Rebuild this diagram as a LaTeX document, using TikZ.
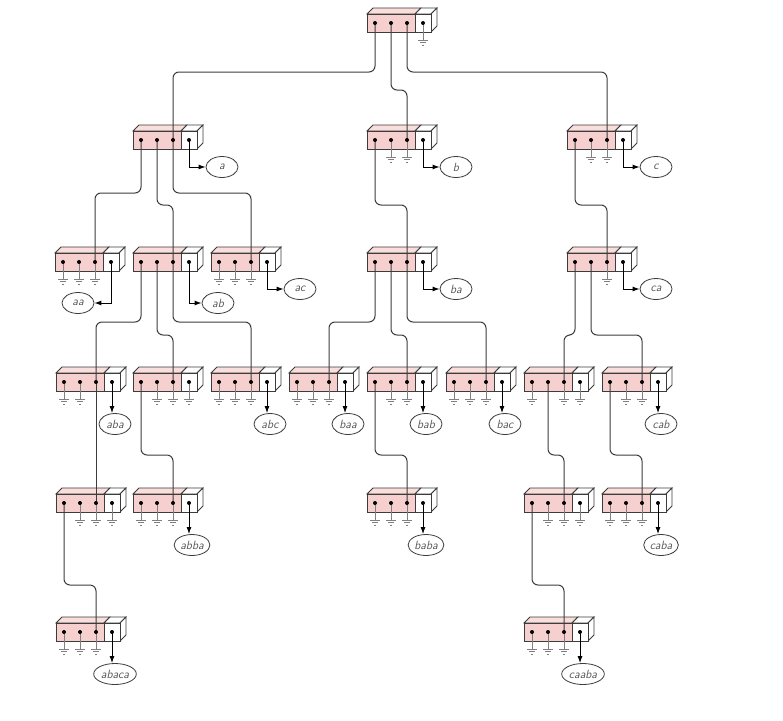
\documentclass[tikz,border=0pt]{standalone}
\usepackage{tikz}
\usetikzlibrary{shapes.geometric,arrows.meta}
\usepackage{xcolor}

\definecolor{cellpink}{RGB}{246,208,206}
\definecolor{celltop}{RGB}{250,222,220}
\definecolor{edgegray}{RGB}{60,60,60}

\tikzset{
	box/.style={draw=edgegray, line width=0.8pt},
	wire/.style={draw=edgegray, line width=1pt, rounded corners=6pt},
	gnd/.style={draw=gray, line width=0.9pt},
	tip/.style={draw=black, line width=1pt, -{Latex[length=7pt,width=5pt]}},
	leaf/.style={ellipse, draw=edgegray, line width=0.8pt, fill=white, inner sep=1pt,
		minimum width=32pt, minimum height=21pt, text=gray!70!black,
		font=\sffamily\itshape\fontsize{12}{14}\selectfont},
}

% trie cell: name, left x, top y of the front face
\newcommand{\trie}[3]{%
	\begin{scope}[shift={(#2,#3)}]
		\filldraw[box, fill=celltop] (0,0) -- (6,-6) -- (54,-6) -- (48,0) -- cycle;
		\filldraw[box, fill=white] (48,0) -- (54,-6) -- (70,-6) -- (64,0) -- cycle;
		\filldraw[box, fill=white] (64,0) -- (70,-6) -- (70,12) -- (64,18) -- cycle;
		\filldraw[box, fill=cellpink] (0,0) rectangle (48,18);
		\filldraw[box, fill=white] (48,0) rectangle (64,18);
		\coordinate (#1-a) at (8,9);
		\coordinate (#1-b) at (24,9);
		\coordinate (#1-c) at (40,9);
		\coordinate (#1-e) at (56,9);
	\end{scope}}
\newcommand{\gr}[1]{%
	\draw[gnd] (#1) -- ++(0,17);
	\draw[gnd] ([shift={(-5,17)}]#1) -- ++(10,0);
	\draw[gnd] ([shift={(-3,19.5)}]#1) -- ++(6,0);
	\draw[gnd] ([shift={(-1,22)}]#1) -- ++(2,0);}
\newcommand{\wire}[3]{\draw[wire] (#1) -- ++(0,#3) -| (#2);}

\begin{document}
\begin{tikzpicture}[x=1pt, y=-1pt]
\useasboundingbox[fill=white] (0,0) rectangle (783,720);

% cells
\trie{root}{367}{14}
\trie{a}{133}{131}  \trie{b}{367}{131}  \trie{c}{567}{131}
\trie{aa}{55}{253}  \trie{ab}{133}{253} \trie{ac}{211}{253}
\trie{ba}{367}{253} \trie{ca}{567}{253}
\trie{aba}{56}{373}  \trie{abb}{133}{373} \trie{abc}{211}{373}
\trie{baa}{289}{373} \trie{bab}{367}{373} \trie{bac}{446}{373}
\trie{caa}{524}{373} \trie{cab}{602}{373}
\trie{abac}{56}{494} \trie{abba}{133}{494} \trie{baba}{367}{494}
\trie{caab}{524}{494} \trie{caba}{602}{494}
\trie{abaca}{56}{623} \trie{caaba}{524}{623}

% links
\wire{root-a}{a-c}{49}  \wire{root-b}{b-c}{67}  \wire{root-c}{c-c}{49}
\wire{a-a}{aa-c}{53}    \wire{a-b}{ab-c}{65}    \wire{a-c}{ac-c}{53}
\wire{b-a}{ba-c}{65}    \wire{c-a}{ca-c}{65}
\wire{ab-a}{aba-c}{60}  \wire{ab-b}{abb-c}{73}  \wire{ab-c}{abc-c}{60}
\wire{ba-a}{baa-c}{60}  \wire{ba-b}{bab-c}{73}  \wire{ba-c}{bac-c}{60}
\wire{ca-a}{caa-c}{73}  \wire{ca-b}{cab-c}{73}
\draw[wire] (aba-c) -- (abac-c);
\wire{abb-a}{abba-c}{73} \wire{bab-a}{baba-c}{73}
\wire{caa-b}{caab-c}{73} \wire{cab-a}{caba-c}{73}
\wire{abac-a}{abaca-c}{82} \wire{caab-a}{caaba-c}{82}

% grounds
\gr{root-e}
\gr{b-b} \gr{b-c} \gr{c-b} \gr{c-c}
\foreach \n in {aa,ac,abc,baa,bac,abba,baba,caba,abaca,caaba}
	{\gr{\n-a} \gr{\n-b} \gr{\n-c}}
\gr{ca-c}
\gr{aba-a} \gr{aba-b}
\gr{abb-b} \gr{abb-c} \gr{abb-e}
\gr{bab-b} \gr{bab-c}
\gr{caa-a} \gr{caa-c} \gr{caa-e}
\gr{cab-b} \gr{cab-c}
\gr{abac-b} \gr{abac-c} \gr{abac-e}
\gr{caab-b} \gr{caab-c} \gr{caab-e}

% words
\foreach \n in {a,b,c,ac,ba,ca}
	{\node[leaf] (w-\n) at ([shift={(33,27)}]\n-e) {\n};
	 \draw[tip] (\n-e) |- (w-\n);}
\node[leaf] (w-ab) at ([shift={(29,41)}]ab-e) {ab};
\draw[tip] (ab-e) |- (w-ab);
\node[leaf] (w-aa) at ([shift={(-33,41)}]aa-e) {aa};
\draw[tip] (aa-e) |- (w-aa);
\foreach \n in {aba,abc,baa,bab,bac,cab,abba,baba,caba,abaca,caaba}
	{\node[leaf] (w-\n) at ([shift={(3,42)}]\n-e) {\n};
	 \draw[tip] (\n-e) -- (\n-e |- w-\n.north);}

% dots
\foreach \n in {root,a,b,c,aa,ab,ac,ba,ca,aba,abb,abc,baa,bab,bac,caa,cab,abac,abba,baba,caab,caba,abaca,caaba}
	\foreach \d in {a,b,c,e}
		\fill (\n-\d) circle (2pt);
\end{tikzpicture}
\end{document}
